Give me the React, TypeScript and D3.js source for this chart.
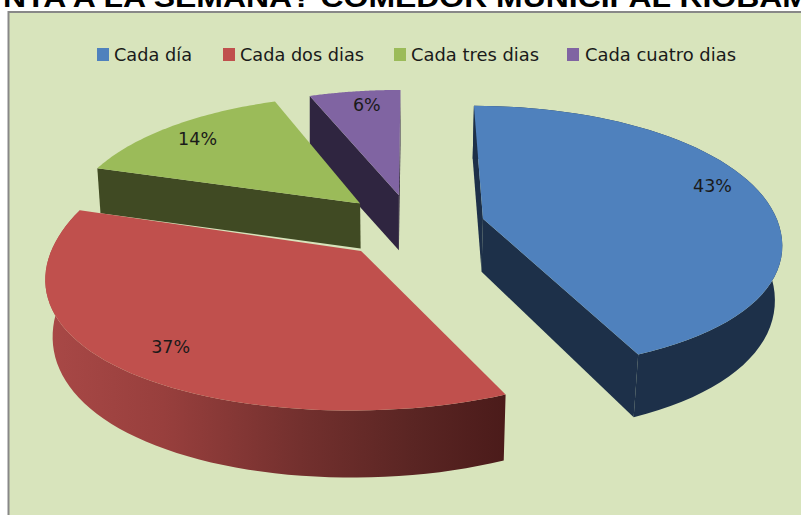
import React from "react";
import * as d3 from "d3";

const categories = ["Cada día", "Cada dos dias", "Cada tres dias", "Cada cuatro dias"];
const values = [43.1, 36.5, 14.49, 5.91];
const titleText = "NTA A LA SEMANA? COMEDOR MUNICIPAL RIOBAMBA";

const W = 801, H = 515;
const topColors = ["#4f81bd", "#c0504d", "#9bbb59", "#8064a2"];
const sideColors = ["#1d3049", "url(#redWall)", "#404a23", "#2f2540"];
const faceColors = ["#1d3049", "#4b1b1a", "#404a23", "#2f2540"];

// layout of the perspective projection
const cx = 412, cy = 225, R = 296, A = 140;
const explode = [0.23, 0.25, 0.235, 0.23];
const rimR = [1, 1.015, 1, 1];
const shiftX = [5, -1, -2, -1];
const shiftY = [0.5, -1, 0, 0.5];
const depthK = [53, 53, 45, 55];
const converge = [0.98, 0.98, 0.99, 1];
const labelR = [0.8, 0.62, 0.72, 0.72];
const labelNudge: [number, number][] = [[8, -4], [-52, 32], [-24, -1], [1, -6]];
const legendSwatchX = [97, 223, 394, 567];
const legendTextX = [114, 240, 411, 585];
const legendTextW = [78, 124, 128, 151];
const pct = d3.format(".0f");

function project(u: number, v: number): [number, number] {
  const sx = 1 / (1 + 0.16 * v);
  const sy = 1 / (1 + (v > 0 ? 0.217 : 0.08) * v);
  return [cx + R * u * sx, cy - A * v * sy];
}

const arcs = d3.pie<number>().sort(null).startAngle(0).endAngle(2 * Math.PI)(values);
const line = d3.line().curve(d3.curveLinear);

export default function App() {
  const slices = arcs.map((a, i) => {
    const mid = (a.startAngle + a.endAngle) / 2;
    const ou = Math.sin(mid) * explode[i];
    const ov = Math.cos(mid) * explode[i];
    const at = (t: number, r = rimR[i]): [number, number] => {
      const p = project(ou + Math.sin(t) * r, ov + Math.cos(t) * r);
      return [p[0] + shiftX[i], p[1] + shiftY[i]];
    };
    const n = 60;
    const rim = d3.range(n + 1).map((k) => at(a.startAngle + ((a.endAngle - a.startAngle) * k) / n));
    const apex = at(0, 0);
    const drop = (p: [number, number]): [number, number] => {
      const v = (cy - p[1]) / A;
      const d = depthK[i] * (v < 0 ? 1 - 0.2 * v : 1);
      return [cx + (p[0] - cx) * converge[i], p[1] + d];
    };
    const top = line([apex, ...rim, apex]) ?? "";
    const wall = line([...rim, ...rim.map(drop).reverse()]) ?? "";
    const f1 = line([apex, rim[0], drop(rim[0]), drop(apex)]) ?? "";
    const f2 = line([apex, rim[n], drop(rim[n]), drop(apex)]) ?? "";
    const lp = at(mid, labelR[i]);
    const showWall = a.startAngle < 1.5 * Math.PI && a.endAngle > 0.5 * Math.PI;
    const showF1 = Math.sin(a.startAngle) <= 0;
    const showF2 = Math.sin(a.endAngle) > 0;
    return { i, top, wall, f1, f2, lp, showWall, showF1, showF2 };
  });
  const order = [3, 2, 0, 1];
  return (
    <svg width={W} height={H} style={{ position: "absolute", left: 0, top: 0 }}>
      <defs>
        <linearGradient id="redWall" gradientUnits="userSpaceOnUse" x1="50" x2="505" y1="0" y2="0">
          <stop offset="0" stopColor="#a84846" />
          <stop offset="0.25" stopColor="#983f3d" />
          <stop offset="0.55" stopColor="#73302e" />
          <stop offset="0.8" stopColor="#5a2523" />
          <stop offset="1" stopColor="#4b1b1a" />
        </linearGradient>
      </defs>
      <rect width={W} height={H} fill="#fff" />
      <text x={3} y={6.5} fontFamily="'Liberation Sans', Arial, sans-serif" fontWeight="bold" fontSize={27} fill="#000" textLength={852} lengthAdjust="spacingAndGlyphs">
        {titleText}
      </text>
      <rect x={8.5} y={12} width={W} height={H} fill="#d8e4bc" stroke="#888" strokeWidth={2} />
      {categories.map((c, i) => (
        <g key={c}>
          <rect x={legendSwatchX[i]} y={48} width={12} height={13} fill={topColors[i]} />
          <text x={legendTextX[i]} y={61} fontFamily="'DejaVu Sans', sans-serif" fontSize={17} fill="#1a1a1a" textLength={legendTextW[i]} lengthAdjust="spacingAndGlyphs">
            {c}
          </text>
        </g>
      ))}
      {order.map((i) => {
        const s = slices[i];
        return (
          <g key={i}>
            {s.showF1 && <path d={s.f1} fill={faceColors[i]} />}
            {s.showF2 && <path d={s.f2} fill={faceColors[i]} />}
            {s.showWall && <path d={s.wall} fill={sideColors[i]} />}
            <path d={s.top} fill={topColors[i]} />
          </g>
        );
      })}
      {slices.map((s) => (
        <text key={s.i} x={s.lp[0] + labelNudge[s.i][0]} y={s.lp[1] + labelNudge[s.i][1]} textAnchor="middle" fontFamily="'DejaVu Sans', sans-serif" fontSize={17.5} fill="#1a1a1a">
          {pct(values[s.i])}%
        </text>
      ))}
    </svg>
  );
}
